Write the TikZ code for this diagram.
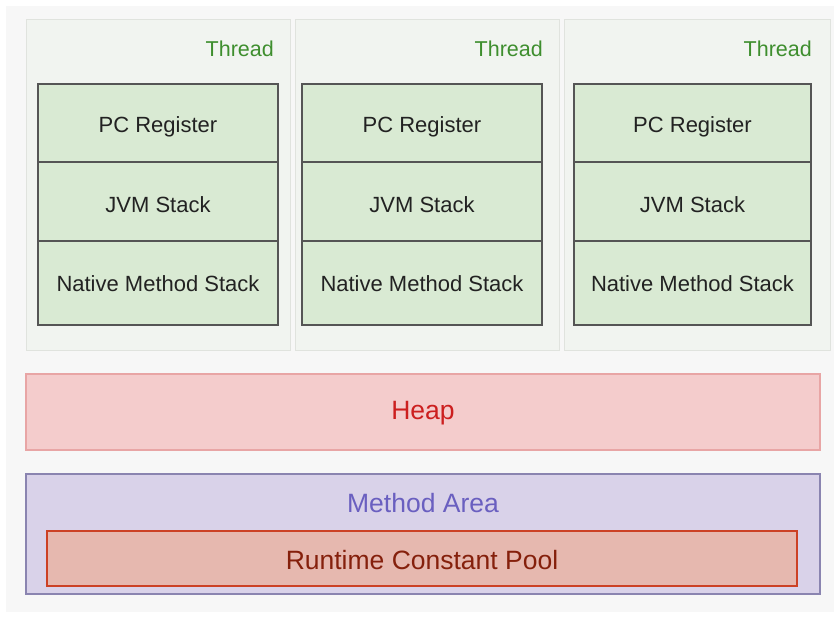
\documentclass[tikz,border=0pt]{standalone}
\usepackage{fontspec}
\setmainfont{Liberation Sans}
\definecolor{pagebg}{HTML}{F7F7F7}
\definecolor{threadfill}{HTML}{F1F4F0}
\definecolor{threadline}{HTML}{E0E3DE}
\definecolor{threadtext}{HTML}{3E8E2E}
\definecolor{stackfill}{HTML}{D9EAD3}
\definecolor{stackline}{HTML}{555555}
\definecolor{stacktext}{HTML}{222222}
\definecolor{heapfill}{HTML}{F4CCCC}
\definecolor{heapline}{HTML}{E8A5A5}
\definecolor{heaptext}{HTML}{CC1F1F}
\definecolor{mafill}{HTML}{D9D2E9}
\definecolor{maline}{HTML}{8A84B0}
\definecolor{matext}{HTML}{6A5FC0}
\definecolor{rcpfill}{HTML}{E6B8AF}
\definecolor{rcpline}{HTML}{CC4125}
\definecolor{rcptext}{HTML}{85200C}
\tikzset{
  box/.style={rectangle, inner sep=0pt, outer sep=0pt},
  threadbox/.style={box, fill=threadfill, draw=threadline, line width=1pt},
  stackbox/.style={box, fill=stackfill, draw=stackline, line width=2pt},
  stacklbl/.style={inner sep=0pt, text=stacktext, font=\fontsize{22}{26}\selectfont},
  threadlbl/.style={inner sep=0pt, anchor=east, text=threadtext, font=\fontsize{21.5}{26}\selectfont},
  biglbl/.style={inner sep=0pt, font=\fontsize{26.5}{31}\selectfont},
}
\begin{document}
\begin{tikzpicture}[x=1pt,y=-1pt]
\useasboundingbox (0,0) rectangle (837,623);
\fill[white] (0,0) rectangle (837,623);
\fill[pagebg] (6,6) rectangle (834,612);
% threads
\node[threadbox, minimum width=264pt, minimum height=330pt] (t1) at (158,185) {};
\node[threadbox, minimum width=264pt, minimum height=330pt] (t2) at (427,185) {};
\node[threadbox, minimum width=266pt, minimum height=330pt] (t3) at (697,185) {};
\node[threadlbl] (l1) at (274,49) {Thread};
\node[threadlbl] (l2) at (543,49) {Thread};
\node[threadlbl] (l3) at (812,49) {Thread};
% stacks
\foreach \i/\cx/\w in {1/158/240, 2/422/240, 3/692.5/237}{
  \node[stackbox, minimum width=\w pt, minimum height=78pt] (pc\i) at (\cx,123) {};
  \node[stackbox, minimum width=\w pt, minimum height=79pt] (jvm\i) at (\cx,201.5) {};
  \node[stackbox, minimum width=\w pt, minimum height=84pt] (nms\i) at (\cx,283) {};
  \node[stacklbl] (pct\i) at (\cx,127) {PC Register};
  \node[stacklbl] (jvmt\i) at (\cx,205) {JVM Stack};
  \node[stacklbl] (nmst\i) at (\cx,284) {Native Method Stack};
}
% heap
\node[box, fill=heapfill, draw=heapline, line width=1.5pt, minimum width=794pt, minimum height=76pt] (heap) at (423,412) {};
\node[biglbl, text=heaptext] (heapt) at (423,413) {Heap};
% method area
\node[box, fill=mafill, draw=maline, line width=1.5pt, minimum width=794pt, minimum height=120pt] (ma) at (423,534) {};
\node[biglbl, text=matext] (malbl) at (423,503) {Method Area};
\node[box, fill=rcpfill, draw=rcpline, line width=2pt, minimum width=750pt, minimum height=55pt] (rcp) at (422,558.5) {};
\node[biglbl, text=rcptext] (rcpt) at (422,560) {Runtime Constant Pool};
\end{tikzpicture}
\end{document}
